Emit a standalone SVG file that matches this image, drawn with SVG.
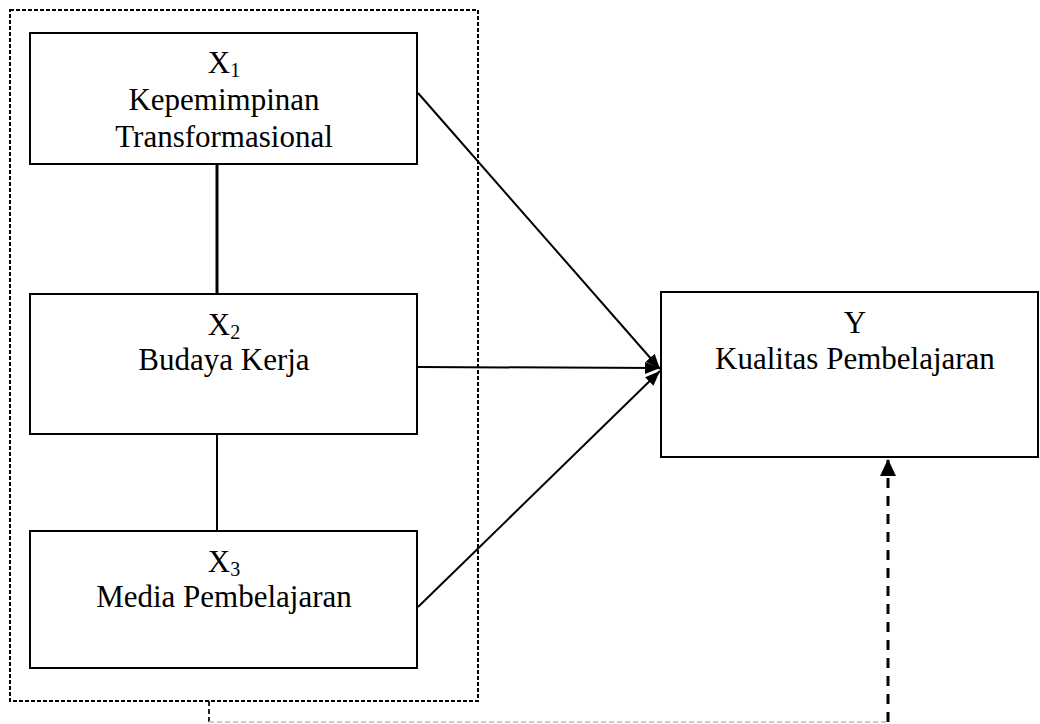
<svg xmlns="http://www.w3.org/2000/svg" width="1040" height="724" viewBox="0 0 1040 724">
  <style>
    .box { fill: #ffffff; stroke: #000000; stroke-width: 2; }
    .lbl { font-family: "Liberation Serif", "Times New Roman", serif; font-size: 31px; fill: #000000; text-anchor: middle; }
    .sub { font-size: 20px; }
    .line { stroke: #000000; stroke-width: 2; fill: none; }
  </style>
  <defs>
    <marker id="arr" markerUnits="userSpaceOnUse" markerWidth="16" markerHeight="16" viewBox="0 0 16 16" refX="15" refY="8" orient="auto">
      <path d="M0,2 L15,8 L0,14 Z" fill="#000000"/>
    </marker>
    <marker id="arrUp" markerUnits="userSpaceOnUse" markerWidth="18" markerHeight="18" viewBox="0 0 18 18" refX="17" refY="8" orient="auto">
      <path d="M0,0 L17,8 L0,16 Z" fill="#000000"/>
    </marker>
  </defs>

  <!-- outer dashed group frame -->
  <rect id="group-x" x="10" y="10" width="468" height="691" fill="none" stroke="#000000" stroke-width="2" stroke-dasharray="4 2"/>

  <g id="connectors">
    <line x1="217" y1="164" x2="217" y2="294" stroke="#000000" stroke-width="3"/>
    <line x1="217" y1="434" x2="217" y2="531" stroke="#000000" stroke-width="2"/>
    <line class="line" x1="418" y1="93" x2="660" y2="369" marker-end="url(#arr)"/>
    <line class="line" x1="418" y1="367" x2="660" y2="368" marker-end="url(#arr)"/>
    <line class="line" x1="418" y1="607" x2="660" y2="371" marker-end="url(#arr)"/>
    <line x1="209" y1="701" x2="209" y2="722" stroke="#222222" stroke-width="2" stroke-dasharray="5 3"/>
    <line x1="209" y1="722" x2="888" y2="722" stroke="#cccccc" stroke-width="2" stroke-dasharray="5 3"/>
    <line x1="888" y1="722" x2="888" y2="459" stroke="#000000" stroke-width="3" stroke-dasharray="10 8" marker-end="url(#arrUp)"/>
  </g>

  <g id="x1">
    <rect class="box" x="30" y="33" width="387" height="131"/>
    <text class="lbl" x="224" y="73">X<tspan class="sub" dy="4">1</tspan></text>
    <text class="lbl" x="224" y="110">Kepemimpinan</text>
    <text class="lbl" x="224" y="147">Transformasional</text>
  </g>

  <g id="x2">
    <rect class="box" x="30" y="294" width="387" height="140"/>
    <text class="lbl" x="224" y="335">X<tspan class="sub" dy="4">2</tspan></text>
    <text class="lbl" x="224" y="370">Budaya Kerja</text>
  </g>

  <g id="x3">
    <rect class="box" x="30" y="531" width="387" height="137"/>
    <text class="lbl" x="224" y="572">X<tspan class="sub" dy="4">3</tspan></text>
    <text class="lbl" x="224" y="607">Media Pembelajaran</text>
  </g>

  <g id="y">
    <rect class="box" x="661" y="292" width="377" height="165"/>
    <text class="lbl" x="855" y="333">Y</text>
    <text class="lbl" x="855" y="369">Kualitas Pembelajaran</text>
  </g>
</svg>
